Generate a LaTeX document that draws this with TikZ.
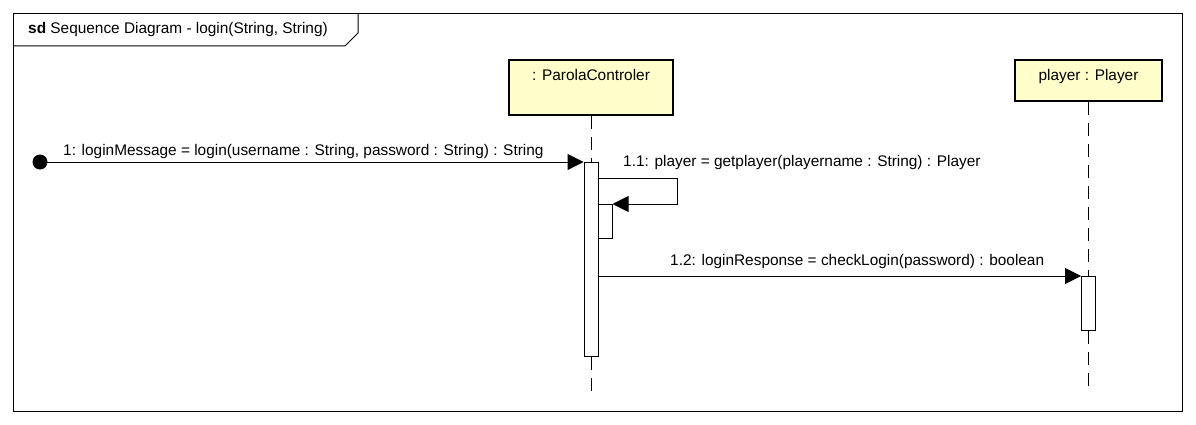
\documentclass[tikz,border=0pt]{standalone}
\usepackage{fontspec}
\setmainfont{Liberation Sans}
\usetikzlibrary{arrows.meta, positioning, calc}
\definecolor{headyellow}{RGB}{255, 255, 204}

\begin{document}
\begin{tikzpicture}[x=1pt, y=-1pt,
  head/.style={draw, line width=2.6pt, fill=headyellow, inner sep=0pt},
  bar/.style={draw, fill=white, line width=1pt, minimum width=14pt, inner sep=0pt, anchor=north},
  lifeline/.style={line width=1pt, dash pattern=on 13pt off 8pt},
  msg/.style={-{Triangle[length=16pt, width=16pt]}, line width=1pt},
  lbl/.style={font=\fontsize{15.4}{18}\selectfont, inner sep=0pt},
]
\useasboundingbox (0,0) rectangle (1196,425);

% Frame
\draw[line width=1pt] (13,14) rectangle (1182,411);
\draw[line width=1pt] (13,46) -- (345,46) -- (358,33) -- (358,14);
\node[lbl, anchor=west] (title) at (28,30) {\textbf{sd} Sequence Diagram - login(String, String)};

% Lifelines
\node[head, minimum width=164pt, minimum height=55pt] (ctrl) at (591,87.5) {};
\node[lbl, below=10pt of ctrl.north] (ctrltxt) {: ParolaControler};
\node[head, minimum width=147pt, minimum height=41pt] (player) at (1088.5,80.5) {};
\node[lbl, below=10pt of player.north] (playertxt) {player : Player};

\node[bar, minimum height=194pt] (ctrlbar) at (591,162) {};
\node[bar, minimum height=34pt] (selfbar) at (605,204) {};
\node[bar, minimum height=54pt] (playerbar) at (1088.5,276) {};

\coordinate (ctrlend) at (591,391);
\coordinate (playerend) at (1088.5,391);
\draw[lifeline] (ctrl.south) -- (ctrlbar.north);
\draw[lifeline] (ctrlbar.south) -- (ctrlend);
\draw[lifeline] (player.south) -- (playerbar.north);
\draw[lifeline] (playerbar.south) -- (playerend);

% Messages
\node[circle, fill, minimum size=15pt, inner sep=0pt] (start) at (40,162) {};
\draw[msg] (start.center) -- (ctrlbar.north west);
\node[lbl, anchor=west] (m1) at (63,152) {1: loginMessage = login(username : String, password : String) : String};

\draw[msg] (ctrlbar.east |- 0,178) -- (677,178) -- (677,204) -- (selfbar.north east);
\node[lbl, anchor=west] (m11) at (623,163) {1.1: player = getplayer(playername : String) : Player};

\draw[msg] (ctrlbar.east |- playerbar.north) -- (playerbar.north west);
\node[lbl, anchor=west] (m12) at (670,262) {1.2: loginResponse = checkLogin(password) : boolean};
\end{tikzpicture}
\end{document}
